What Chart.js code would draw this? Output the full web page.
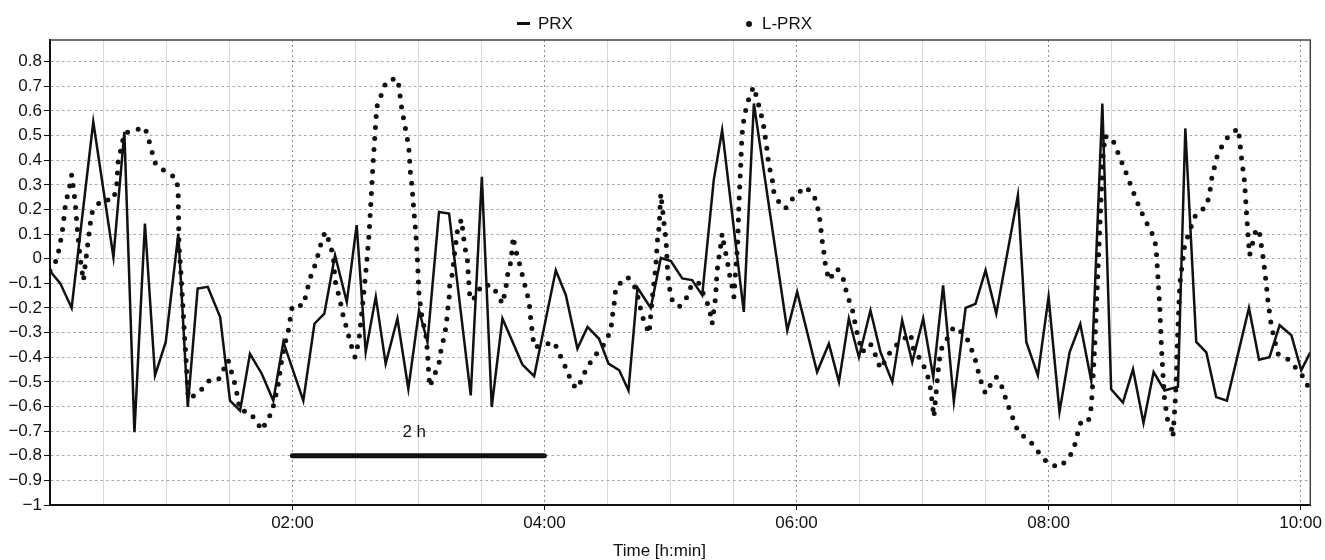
<!DOCTYPE html>
<html>
<head>
<meta charset="utf-8">
<title>PRX vs L-PRX</title>
<script src="https://cdn.jsdelivr.net/npm/chart.js@4.4.1/dist/chart.umd.min.js"></script>
<style>
    body { margin: 0; background: #fff; font-family: 'Liberation Sans', Arial, sans-serif; color: #111; }
    #wrap { position: relative; width: 1325px; height: 560px; }
    #grafico { position: absolute; left: 0; top: 0; }
    .txt { position: absolute; font-size: 17px; line-height: 17px; white-space: nowrap; }
    .dash { position: absolute; left: 517px; top: 22px; width: 13px; height: 3px; background: #111; }
    .dot { position: absolute; left: 746px; top: 21px; width: 6px; height: 6px; border-radius: 50%; background: #111; }
</style>
</head>
<body>
<div id="wrap">
    <canvas id="grafico" width="1325" height="560"></canvas>
    <span class="dash"></span>
    <span class="txt" style="left:538px; top:15px;">PRX</span>
    <span class="dot"></span>
    <span class="txt" style="left:762px; top:15px;">L-PRX</span>
    <span class="txt" id="titulo-x" style="left:613px; top:542px;">Time [h:min]</span>
</div>
<script>
// Time in minutes from the start of the recording

const prxMinutes = [4.6, 9.5, 14.9, 25.2, 34.8, 40.0, 44.8, 49.8, 54.6, 59.7, 65.7, 70.2, 74.9, 79.7, 85.6, 90.3, 95.1, 99.8, 105.4, 110.9,
    115.7, 125.2, 130.5, 135.2, 140.3, 145.9, 150.6, 154.9, 159.7, 164.4, 170.0, 175.2, 180.3, 184.3, 189.8, 194.6, 204.9, 210.2, 214.9, 220.0,
    229.5, 235.1, 245.4, 250.2, 255.7, 260.5, 266.0, 270.5, 275.6, 280.0, 284.3, 290.6, 295.4, 300.2, 305.6, 310.3, 315.1, 320.6, 324.6, 334.9,
    339.7, 355.6, 360.3, 369.8, 375.4, 380.2, 384.9, 389.7, 395.2, 400.0, 405.6, 410.3, 415.1, 420.3, 425.1, 429.8, 434.9, 440.5, 445.2, 450.0,
    455.1, 465.4, 469.4, 474.9, 480.0, 485.2, 490.0, 495.1, 500.3, 505.6, 509.8, 515.4, 520.2, 525.2, 530.0, 535.2, 541.6, 545.1, 550.3, 555.1,
    559.8, 564.9, 575.4, 580.2, 585.2, 590.0, 595.6, 600.3, 604.6];
const prxValues = [-0.05, -0.10, -0.20, 0.556, 0.007, 0.515, -0.704, 0.143, -0.474, -0.338, 0.102, -0.602, -0.121, -0.114, -0.237, -0.576, -0.617, -0.386, -0.467, -0.576,
    -0.338, -0.576, -0.264, -0.223, 0.014, -0.176, 0.136, -0.379, -0.155, -0.426, -0.243, -0.528, -0.21, -0.338, 0.19, 0.183, -0.555, 0.333, -0.602, -0.243,
    -0.43, -0.477, -0.047, -0.148, -0.365, -0.277, -0.325, -0.426, -0.453, -0.535, -0.118, -0.2, 0.003, -0.01, -0.08, -0.087, -0.148, 0.319, 0.522, -0.216,
    0.63, -0.291, -0.135, -0.46, -0.345, -0.5, -0.243, -0.4, -0.21, -0.38, -0.5, -0.25, -0.42, -0.243, -0.48, -0.108, -0.58, -0.2, -0.183, -0.047,
    -0.223, 0.258, -0.338, -0.474, -0.155, -0.622, -0.38, -0.265, -0.495, 0.63, -0.53, -0.584, -0.449, -0.667, -0.46, -0.535, -0.52, 0.529, -0.338, -0.38,
    -0.562, -0.576, -0.2, -0.41, -0.4, -0.27, -0.311, -0.453, -0.38];

const lprxMinutes = [4.6, 7.4, 9.0, 10.6, 12.1, 13.7, 14.9, 16.6, 17.6, 19.0, 20.5, 21.3, 22.8, 24.4, 28.9, 34.7, 36.3, 37.1, 38.7, 39.9,
    45.0, 49.8, 51.7, 53.3, 54.9, 59.6, 64.9, 65.6, 66.0, 66.9, 67.7, 68.4, 69.2, 70.0, 70.4, 75.1, 80.0, 84.6, 89.4, 91.0,
    93.0, 95.0, 99.7, 103.6, 105.5, 108.7, 110.0, 111.6, 113.3, 114.9, 116.5, 118.1, 120.0, 125.2, 126.8, 128.4, 130.5, 132.4, 134.0, 135.6,
    137.9, 139.5, 140.3, 142.7, 144.3, 145.9, 147.5, 149.8, 151.7, 153.5, 155.2, 156.5, 157.5, 158.5, 160.2, 162.3, 164.7, 167.5, 170.2, 171.0,
    171.8, 172.9, 174.2, 175.4, 175.8, 176.2, 177.0, 177.4, 178.5, 179.4, 180.3, 181.9, 183.5, 184.3, 184.8, 185.4, 187.5, 189.8, 190.6, 192.2,
    193.3, 193.8, 194.6, 194.9, 196.2, 197.0, 198.6, 200.5, 202.0, 203.3, 204.3, 205.1, 208.1, 209.7, 214.9, 218.4, 220.0, 221.6, 222.4, 224.0,
    225.1, 226.3, 227.9, 229.5, 231.1, 232.7, 233.5, 234.3, 235.1, 240.0, 244.6, 247.9, 250.3, 252.6, 255.0, 258.2, 259.8, 263.7, 265.3, 269.3,
    271.7, 272.4, 273.3, 274.0, 279.6, 283.5, 286.7, 289.8, 291.4, 292.2, 293.0, 293.8, 294.6, 295.4, 297.1, 297.9, 298.7, 299.5, 300.3, 304.1,
    307.9, 310.3, 313.5, 316.5, 318.5, 319.8, 321.4, 322.2, 323.8, 324.6, 325.6, 327.0, 328.0, 329.4, 330.2, 331.0, 332.0, 332.5, 333.0, 333.5,
    334.0, 335.0, 336.5, 338.9, 339.7, 341.3, 342.9, 344.4, 346.0, 346.8, 348.4, 349.2, 352.4, 354.8, 358.7, 364.3, 368.3, 370.6, 371.4, 372.2,
    373.0, 373.8, 375.4, 379.4, 382.5, 384.1, 386.5, 388.9, 391.3, 395.2, 397.6, 400.0, 405.6, 414.3, 415.9, 419.0, 422.2, 423.8, 424.6, 425.4,
    427.5, 428.6, 434.9, 440.5, 442.9, 445.2, 446.8, 448.4, 450.0, 453.2, 455.1, 458.3, 459.8, 462.2, 464.6, 466.2, 470.2, 474.1, 475.7, 480.0,
    485.2, 490.0, 492.4, 494.0, 495.6, 499.0, 500.3, 501.1, 502.0, 503.0, 504.0, 505.0, 506.0, 507.0, 508.3, 510.6, 513.8, 517.0, 519.4, 522.5,
    524.9, 528.1, 530.5, 531.3, 532.1, 532.9, 533.7, 534.4, 535.2, 536.0, 536.8, 538.4, 539.2, 540.5, 541.5, 542.5, 544.8, 548.7, 550.3, 555.1,
    556.7, 557.5, 559.0, 560.6, 563.8, 565.4, 570.2, 571.0, 571.7, 572.5, 573.3, 574.1, 574.9, 575.7, 577.3, 578.9, 580.5, 582.1, 582.9, 583.7,
    584.4, 586.0, 587.6, 589.2, 594.8, 601.9, 604.6];
const lprxValues = [-0.05, -0.01, 0.04, 0.12, 0.23, 0.28, 0.34, 0.23, 0.12, 0.0, -0.09, -0.03, 0.075, 0.184, 0.238, 0.238, 0.29, 0.40, 0.455, 0.51,
    0.522, 0.533, 0.48, 0.43, 0.384, 0.353, 0.326, 0.27, 0.055, -0.054, -0.169, -0.277, -0.386, -0.494, -0.568, -0.548, -0.497, -0.494, -0.412, -0.46,
    -0.52, -0.616, -0.623, -0.67, -0.697, -0.643, -0.63, -0.575, -0.507, -0.413, -0.345, -0.29, -0.19, -0.19, -0.135, -0.08, -0.033, 0.021, 0.075, 0.109,
    0.062, 0.007, -0.088, -0.169, -0.237, -0.284, -0.338, -0.40, -0.33, -0.18, -0.033, 0.10, 0.25, 0.40, 0.617, 0.665, 0.719, 0.728, 0.73, 0.678,
    0.624, 0.57, 0.511, 0.454, 0.40, 0.346, 0.292, 0.238, 0.13, 0.02, -0.149, -0.25, -0.304, -0.379, -0.45, -0.52, -0.474, -0.426, -0.379, -0.318,
    -0.27, -0.216, -0.162, -0.108, -0.06, 0.007, 0.116, 0.16, 0.05, 0.0, -0.14, -0.17, -0.149, -0.108, -0.108, -0.155, -0.183, -0.121, -0.067, -0.013,
    0.089, 0.034, -0.013, -0.067, -0.121, -0.176, -0.25, -0.304, -0.359, -0.35, -0.338, -0.40, -0.446, -0.494, -0.528, -0.487, -0.446, -0.40, -0.38, -0.338,
    -0.284, -0.23, -0.176, -0.115, -0.074, -0.121, -0.237, -0.304, -0.155, -0.094, -0.033, 0.075, 0.129, 0.265, 0.129, 0.075, -0.067, -0.115, -0.162, -0.196,
    -0.155, -0.10, -0.10, -0.16, -0.20, -0.264, -0.162, -0.047, 0.048, 0.102, 0.05, -0.006, -0.06, -0.115, -0.155, -0.05, 0.06, 0.2, 0.3, 0.39,
    0.5, 0.57, 0.63, 0.685, 0.698, 0.644, 0.597, 0.536, 0.441, 0.38, 0.326, 0.271, 0.217, 0.204, 0.251, 0.292, 0.258, 0.19, 0.136, 0.075,
    0.028, -0.027, -0.087, -0.04, -0.087, -0.149, -0.203, -0.304, -0.379, -0.345, -0.392, -0.447, -0.365, -0.304, -0.379, -0.406, -0.467, -0.528, -0.582, -0.643,
    -0.45, -0.372, -0.277, -0.311, -0.358, -0.413, -0.467, -0.514, -0.548, -0.50, -0.48, -0.528, -0.575, -0.63, -0.684, -0.711, -0.731, -0.772, -0.792, -0.833,
    -0.846, -0.806, -0.758, -0.704, -0.657, -0.657, -0.603, -0.494, -0.35, -0.15, 0.05, 0.25, 0.43, 0.50, 0.482, 0.482, 0.414, 0.346, 0.292, 0.224,
    0.177, 0.122, 0.082, 0.028, -0.08, -0.19, -0.352, -0.46, -0.569, -0.616, -0.663, -0.684, -0.724, -0.55, -0.30, -0.10, 0.055, 0.15, 0.183, 0.211,
    0.265, 0.319, 0.373, 0.427, 0.475, 0.495, 0.529, 0.482, 0.42, 0.366, 0.312, 0.204, 0.102, 0.014, 0.068, 0.122, 0.10, 0.007, -0.047, -0.108,
    -0.169, -0.27, -0.331, -0.386, -0.413, -0.487, -0.542];

// Barra "2 h" (de 02:00 a 04:00)
const barMinutes = [120, 240];
const barValues = [-0.8, -0.8];
const barLabel = '2 h';
const barLabelMinute = 178;
const barLabelValue = -0.703;

const xTickValues = [30, 60, 90, 120, 150, 180, 210, 240, 270, 300, 330, 360, 390, 420, 450, 480, 510, 540, 570, 600];
const xTickLabels = ['', '', '', '02:00', '', '', '', '04:00', '', '', '', '06:00', '', '', '', '08:00', '', '', '', '10:00'];
const yTickValues = [-1, -0.9, -0.8, -0.7, -0.6, -0.5, -0.4, -0.3, -0.2, -0.1, 0, 0.1, 0.2, 0.3, 0.4, 0.5, 0.6, 0.7, 0.8];
const yTickLabels = ['\u22121', '\u22120.9', '\u22120.8', '\u22120.7', '\u22120.6', '\u22120.5', '\u22120.4', '\u22120.3', '\u22120.2', '\u22120.1',
    '0', '0.1', '0.2', '0.3', '0.4', '0.5', '0.6', '0.7', '0.8'];

const FONTE = "'Liberation Sans', Arial, sans-serif";

function pontos(xs, ys) {
    return xs.map((x, i) => ({ x: x, y: ys[i] }));
}

const isMajor = (ctx) => ctx.tick && Math.round(ctx.tick.value) % 120 === 0;

// Moldura superior e direita + texto "2 h"
const molduraPlugin = {
    id: 'moldura',
    afterDatasetsDraw(chart) {
        const { ctx, chartArea: a, scales } = chart;
        ctx.save();
        ctx.strokeStyle = '#444';
        ctx.lineWidth = 1.5;
        ctx.beginPath();
        ctx.moveTo(a.left, a.top);
        ctx.lineTo(a.right, a.top);
        ctx.lineTo(a.right, a.bottom);
        ctx.stroke();

        ctx.fillStyle = '#111';
        ctx.font = '17px ' + FONTE;
        ctx.textAlign = 'center';
        ctx.textBaseline = 'middle';
        ctx.fillText(barLabel, scales.x.getPixelForValue(barLabelMinute), scales.y.getPixelForValue(barLabelValue));
        ctx.restore();
    }
};

const ctx = document.getElementById('grafico').getContext('2d');

new Chart(ctx, {
    type: 'line',
    data: {
        datasets: [
            {
                label: 'PRX',
                data: pontos(prxMinutes, prxValues),
                borderColor: '#111',
                borderWidth: 2.5,
                pointRadius: 0,
                tension: 0
            },
            {
                label: 'L-PRX',
                data: pontos(lprxMinutes, lprxValues),
                borderColor: '#111',
                borderWidth: 5,
                borderDash: [0, 11],
                borderCapStyle: 'round',
                pointRadius: 0,
                tension: 0
            },
            {
                label: '2 h',
                data: pontos(barMinutes, barValues),
                borderColor: '#111',
                borderWidth: 5,
                borderCapStyle: 'round',
                pointRadius: 0
            }
        ]
    },
    options: {
        responsive: false,
        animation: false,
        layout: { padding: { top: 40, right: 13, left: 0, bottom: 0 } },
        plugins: {
            legend: { display: false },
            tooltip: { enabled: false }
        },
        scales: {
            x: {
                type: 'linear',
                min: 4.6,
                max: 604.6,
                afterFit: (scale) => { scale.height = 55; },
                afterBuildTicks: (scale) => { scale.ticks = xTickValues.map(v => ({ value: v })); },
                ticks: {
                    autoSkip: false,
                    maxRotation: 0,
                    padding: 3,
                    color: '#111',
                    font: { family: FONTE, size: 17 },
                    callback: (value, index) => xTickLabels[index]
                },
                grid: {
                    color: (c) => isMajor(c) ? '#8a8a8a' : '#d9d9d9',
                    lineWidth: 1,
                    tickLength: 5,
                    tickColor: (c) => isMajor(c) ? '#111' : 'rgba(0,0,0,0)'
                },
                border: {
                    display: true,
                    color: '#111',
                    width: 2,
                    dash: (c) => isMajor(c) ? [2, 3] : []
                }
            },
            y: {
                min: -1,
                max: 0.888,
                afterFit: (scale) => { scale.width = 50; },
                afterBuildTicks: (scale) => { scale.ticks = yTickValues.map(v => ({ value: v })); },
                ticks: {
                    padding: 2,
                    color: '#111',
                    font: { family: FONTE, size: 17 },
                    callback: (value, index) => yTickLabels[index]
                },
                grid: {
                    color: '#a6a6a6',
                    lineWidth: 1,
                    tickLength: 6,
                    tickColor: '#111'
                },
                border: {
                    display: true,
                    color: '#111',
                    width: 2,
                    dash: [2.5, 3]
                }
            }
        }
    },
    plugins: [molduraPlugin]
});
</script>
</body>
</html>
